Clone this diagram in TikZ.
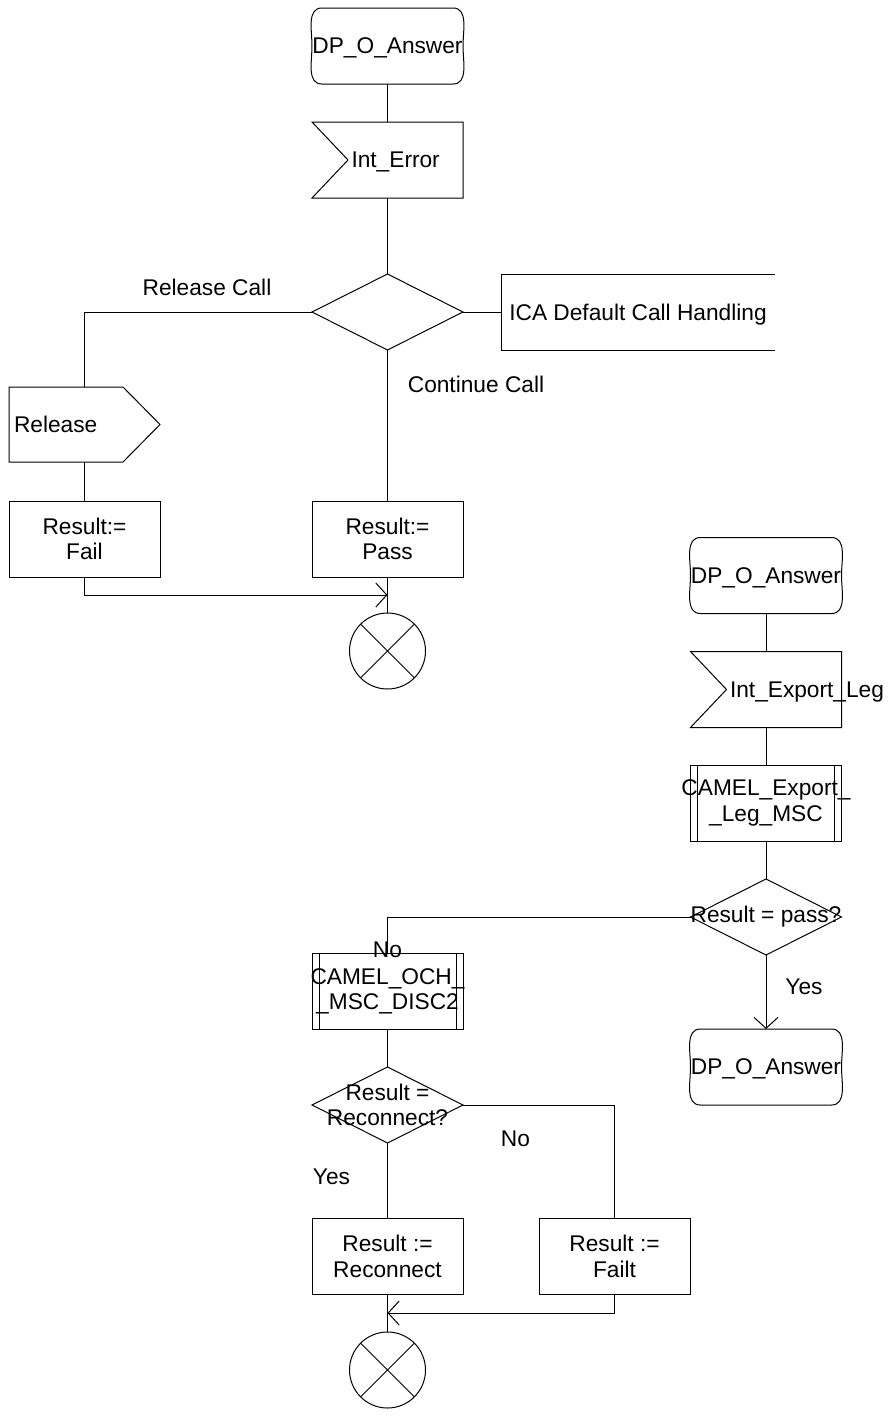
\documentclass[tikz,border=0pt]{standalone}
\usepackage{fontspec}
\setmainfont{Liberation Sans}
\usetikzlibrary{arrows.meta}

\tikzset{
  startbox/.style={minimum width=151pt,minimum height=76pt,text depth=0pt,
    append after command={\pgfextra{\let\shp\tikzlastnode
      \draw ([xshift=10pt]\shp.north west) -- ([xshift=-10pt]\shp.north east)
        to[out=0,in=90] (\shp.east) to[out=-90,in=0] ([xshift=-10pt]\shp.south east)
        -- ([xshift=10pt]\shp.south west) to[out=180,in=-90] (\shp.west)
        to[out=90,in=180] ([xshift=10pt]\shp.north west);}}},
  inbox/.style={minimum width=151pt,minimum height=76pt,text width=72pt,align=left,text depth=0pt,
    append after command={\pgfextra{\let\shp\tikzlastnode
      \draw (\shp.north west) -- (\shp.north east) -- (\shp.south east)
        -- (\shp.south west) -- ([xshift=36pt]\shp.west) -- cycle;}}},
  outbox/.style={minimum width=151pt,minimum height=75pt,text width=141pt,align=left,text depth=0pt,
    append after command={\pgfextra{\let\shp\tikzlastnode
      \draw (\shp.north west) -- ([xshift=-37pt]\shp.north east) -- (\shp.east)
        -- ([xshift=-37pt]\shp.south east) -- (\shp.south west) -- cycle;}}},
  taskbox/.style={draw,minimum width=151pt,minimum height=76pt,align=center},
  procbox/.style={draw,minimum width=151pt,minimum height=76pt,align=center,
    append after command={\pgfextra{\let\shp\tikzlastnode
      \draw ([xshift=7pt]\shp.north west) -- ([xshift=7pt]\shp.south west)
        ([xshift=-7pt]\shp.north east) -- ([xshift=-7pt]\shp.south east);}}},
  decision/.style={minimum width=151pt,minimum height=76pt,align=center,
    append after command={\pgfextra{\let\shp\tikzlastnode
      \draw (\shp.north) -- (\shp.east) -- (\shp.south) -- (\shp.west) -- cycle;}}},
  openbox/.style={minimum width=274pt,minimum height=76pt,text depth=0pt,
    append after command={\pgfextra{\let\shp\tikzlastnode
      \draw (\shp.north east) -- (\shp.north west) -- (\shp.south west) -- (\shp.south east);}}},
  stopsym/.style={circle,draw,minimum size=76pt,
    append after command={\pgfextra{\let\shp\tikzlastnode
      \draw (\shp.north west) -- (\shp.south east) (\shp.north east) -- (\shp.south west);}}},
  arr/.style={-{Straight Barb[length=11pt,width=24pt]}}
}

\begin{document}
\begin{tikzpicture}[x=1pt,y=-1pt,line width=1pt,
  every node/.style={font=\fontsize{22.7pt}{25.5pt}\selectfont,inner sep=0pt,outer sep=0pt}]
\useasboundingbox (0,0) rectangle (890,1416);

% upper part
\node[startbox] (s1) at (387.5,46) {DP\_O\_Answer};
\node[inbox] (in1) at (387.5,160) {Int\_Error};
\node[decision] (d1) at (387.5,312) {};
\node[openbox] (ica) at (638,312) {ICA Default Call Handling};
\node[outbox] (out1) at (84.5,424.5) {Release};
\node[taskbox] (t1) at (84.5,539) {Result:=\\Fail};
\node[taskbox] (t2) at (387.5,539) {Result:=\\Pass};
\node[stopsym] (st1) at (387.5,651) {};
\coordinate (j1) at (387.5,595);

\node[anchor=base] (lrel) at (207,295) {Release Call};
\node[anchor=base] (lcont) at (476,392) {Continue Call};

\draw (s1) -- (in1);
\draw (in1) -- (d1);
\draw (d1.west) -| (out1);
\draw (d1.east) -- (ica);
\draw (d1) -- (t2);
\draw (out1) -- (t1);
\draw[arr] (t1.south) |- (j1);
\draw (t2) -- (st1);

% lower part
\node[startbox] (s2) at (766,575.5) {DP\_O\_Answer};
\node[inbox] (in2) at (766,689.5) {Int\_Export\_Leg};
\node[procbox] (p1) at (766,803) {\makebox[0pt]{CAMEL\_Export\_}\\\_Leg\_MSC};
\node[decision] (d2) at (766,917) {\makebox[0pt]{Result = pass?}};
\node[startbox] (s3) at (766,1067) {DP\_O\_Answer};
\node[procbox] (p2) at (387.5,991.5) {\makebox[0pt]{CAMEL\_OCH\_}\\\_MSC\_DISC2};
\node[decision] (d3) at (387.5,1105) {Result =\\Reconnect?};
\node[taskbox] (t3) at (387.5,1256.5) {Result :=\\Reconnect};
\node[taskbox] (t4) at (614.5,1256.5) {Result :=\\Failt};
\node[stopsym] (st2) at (387.5,1370) {};
\coordinate (j2) at (387.5,1313);

\node[anchor=base] (lyes1) at (804,994) {Yes};
\node[anchor=base] (lno1) at (387.5,957) {No};
\node[anchor=base] (lyes2) at (331.5,1184) {Yes};
\node[anchor=base] (lno2) at (515.5,1146) {No};

\draw (s2) -- (in2);
\draw (in2) -- (p1);
\draw (p1) -- (d2);
\draw[arr] (d2) -- (s3);
\draw (d2.west) -| (p2);
\draw (p2) -- (d3);
\draw (d3) -- (t3);
\draw (d3.east) -| (t4);
\draw[arr] (t4.south) |- (j2);
\draw (t3) -- (st2);
\end{tikzpicture}
\end{document}
